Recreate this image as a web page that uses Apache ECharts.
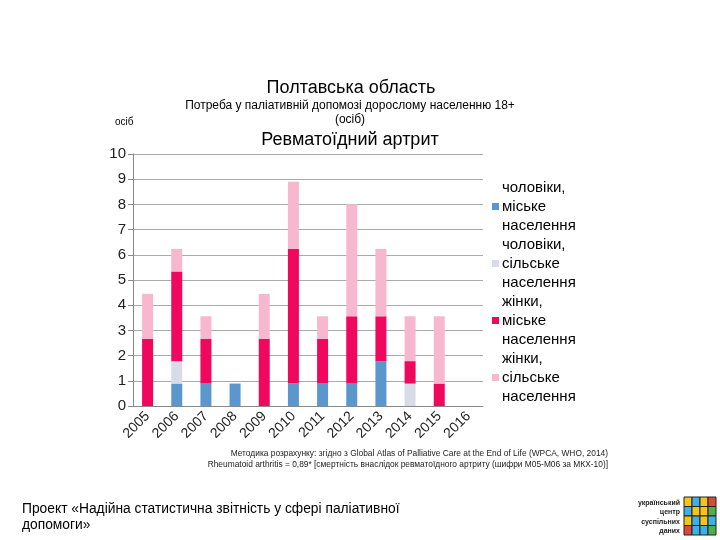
<!DOCTYPE html>
<html><head><meta charset="utf-8">
<script src="https://cdn.jsdelivr.net/npm/echarts@6/dist/echarts.min.js"></script>
<style>html,body{margin:0;padding:0;background:#fff}#c{width:720px;height:540px}</style>
</head><body><div id="c"></div>
<script>
const years = ['2005','2006','2007','2008','2009','2010','2011','2012','2013','2014','2015','2016'];
const menUrban   = [0, 0.89, 0.89, 0.89, 0, 0.89, 0.89, 0.89, 1.78, 0, 0, 0];
const menRural   = [0, 0.89, 0, 0, 0, 0, 0, 0, 0, 0.89, 0, 0];
const womenUrban = [2.67, 3.56, 1.78, 0, 2.67, 5.34, 1.78, 2.67, 1.78, 0.89, 0.89, 0];
const womenRural = [1.78, 0.89, 0.89, 0, 1.78, 2.67, 0.89, 4.45, 2.67, 1.78, 2.67, 0];
const yTicks = [0,1,2,3,4,5,6,7,8,9,10];
const names = ['чоловіки,\nміське\nнаселення','чоловіки,\nсільське\nнаселення','жінки,\nміське\nнаселення','жінки,\nсільське\nнаселення'];
const colors = ['#5b96cc','#d8dce6','#f0075e','#f7b8cf'];

const chart = echarts.init(document.getElementById('c'));
const F = 'Liberation Sans, Arial, sans-serif';
function ser(i, d){ return {name:names[i], type:'bar', stack:'a', data:d, barWidth:11, itemStyle:{color:colors[i]}, emphasis:{disabled:true}}; }

const logoColors = ['#f6c419','#3db1e6','#f6c419','#d94a3a','#3db1e6','#f6c419','#f6c419','#4db04a','#f6c419','#3db1e6','#f6c419','#3db1e6','#d94a3a','#3db1e6','#3db1e6','#4db04a'];
const logo = [];
for (let r=0;r<4;r++) for (let c=0;c<4;c++) logo.push({type:'rect', shape:{x:684+c*8, y:497+r*9.5, width:8, height:9.5}, style:{fill:logoColors[r*4+c], stroke:'#222', lineWidth:1}});

chart.setOption({
  animation:false,
  textStyle:{fontFamily:F},
  title:[
    {text:'Полтавська область', left:346, top:74, textAlign:'center', textStyle:{fontSize:18, fontWeight:'normal', color:'#000', fontFamily:F}},
    {text:'Потреба у паліативній допомозі дорослому населенню 18+\n(осіб)', left:345, top:93, textAlign:'center', textStyle:{fontSize:12, fontWeight:'normal', color:'#000', lineHeight:14.5, fontFamily:F}},
    {text:'осіб', left:110, top:112, textStyle:{fontSize:10, fontWeight:'normal', color:'#000', fontFamily:F}},
    {text:'Ревматоїдний артрит', left:345, top:126, textAlign:'center', textStyle:{fontSize:18, fontWeight:'normal', color:'#000', fontFamily:F}}
  ],
  legend:{orient:'vertical', left:487, top:173, itemWidth:7, itemHeight:7, itemGap:0, icon:'rect',
    textStyle:{fontSize:15, lineHeight:19, color:'#000', fontFamily:F, padding:[0,0,0,-2]}},
  grid:{left:133, right:237, top:154, bottom:134},
  xAxis:{type:'category', data:years,
    axisLine:{lineStyle:{color:'#888'}}, axisTick:{lineStyle:{color:'#888'}, length:5},
    axisLabel:{rotate:45, fontSize:14, color:'#222', margin:8, fontFamily:F}},
  yAxis:{type:'value', min:0, max:10, interval:1,
    axisLine:{show:true, lineStyle:{color:'#888'}}, axisTick:{show:true, length:5, lineStyle:{color:'#888'}},
    axisLabel:{fontSize:15, color:'#222', margin:7, fontFamily:F, formatter:v=>yTicks.includes(v)?String(v):''},
    splitLine:{lineStyle:{color:'#aaaaaa'}}},
  series:[ser(0,menUrban), ser(1,menRural), ser(2,womenUrban), ser(3,womenRural)],
  graphic:[
    {type:'text', x:608, y:448, style:{text:'Методика розрахунку: згідно з Global Atlas of Palliative Care at the End of Life (WPCA, WHO, 2014)\nRheumatoid arthritis = 0,89* [смертність внаслідок ревматоїдного артриту (шифри М05-М06 за МКХ-10)]', align:'right', fontSize:8.4, lineHeight:11, fill:'#222', fontFamily:F}},
    {type:'text', x:22, y:501, style:{text:'Проект «Надійна статистична звітність у сфері паліативної\nдопомоги»', fontSize:13.8, lineHeight:16, fill:'#000', fontFamily:F}},
    {type:'text', x:680, y:498, style:{text:'український\nцентр\nсуспільних\nданих', align:'right', fontSize:7, lineHeight:9.5, fontWeight:'bold', fill:'#222', fontFamily:F}}
  ].concat(logo)
});
</script></body></html>
